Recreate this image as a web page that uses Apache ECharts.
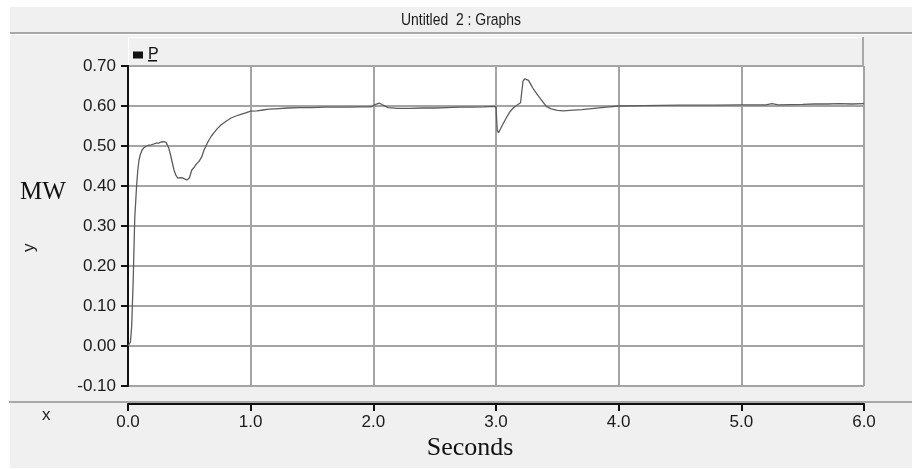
<!DOCTYPE html>
<html>
<head>
<meta charset="utf-8">
<title>Untitled 2 : Graphs</title>
<script src="https://cdn.jsdelivr.net/npm/echarts@6/dist/echarts.min.js"></script>
<style>
  html, body { margin: 0; padding: 0; background: #ffffff; }
  #chart { width: 912px; height: 469px; }
</style>
</head>
<body>
<div id="chart"></div>
<script>
// Active power P (MW) against simulation time (s)
const timeS = [
  0, 0.02, 0.028, 0.03, 0.04, 0.042, 0.052, 0.055, 0.065, 0.07,
  0.08, 0.09, 0.1, 0.115, 0.13, 0.15, 0.17, 0.19, 0.21, 0.23,
  0.25, 0.27, 0.29, 0.31, 0.33, 0.345, 0.36, 0.375, 0.39, 0.405,
  0.42, 0.44, 0.46, 0.48, 0.5, 0.52, 0.54, 0.56, 0.58, 0.6,
  0.62, 0.64, 0.66, 0.68, 0.7, 0.73, 0.76, 0.8, 0.84, 0.88,
  0.92, 0.96, 1.0, 1.05, 1.1, 1.15, 1.2, 1.3, 1.4, 1.5,
  1.6, 1.7, 1.8, 1.9, 1.98, 2.02, 2.05, 2.08, 2.12, 2.2,
  2.3, 2.4, 2.5, 2.6, 2.7, 2.8, 2.9, 2.98, 3.0, 3.01,
  3.02, 3.03, 3.04, 3.06, 3.08, 3.11, 3.14, 3.17, 3.2, 3.215,
  3.22, 3.235, 3.25, 3.265, 3.28, 3.3, 3.32, 3.34, 3.36, 3.38,
  3.41, 3.45, 3.5, 3.55, 3.6, 3.7, 3.8, 3.9, 4.0, 4.2,
  4.5, 4.8, 5.0, 5.2, 5.25, 5.3, 5.5, 5.6, 5.7, 5.8,
  5.9, 6.0
];
const powerMW = [
  0.0, 0.01, 0.01, 0.05, 0.05, 0.16, 0.16, 0.32, 0.32, 0.40,
  0.44, 0.465, 0.478, 0.49, 0.496, 0.5, 0.502, 0.503, 0.505, 0.507,
  0.507, 0.51, 0.511, 0.509, 0.497, 0.48, 0.46, 0.44, 0.427, 0.42,
  0.419, 0.421, 0.418, 0.415, 0.42, 0.44, 0.447, 0.456, 0.462, 0.472,
  0.49, 0.503, 0.515, 0.525, 0.533, 0.544, 0.553, 0.562, 0.57, 0.575,
  0.579, 0.583, 0.587, 0.588, 0.59, 0.592, 0.593, 0.595, 0.596, 0.596,
  0.597, 0.597, 0.597, 0.598, 0.598, 0.604, 0.607, 0.602, 0.596, 0.594,
  0.594, 0.595, 0.595, 0.596, 0.597, 0.597, 0.598, 0.599, 0.598, 0.54,
  0.533, 0.532, 0.545, 0.557, 0.568, 0.584, 0.595, 0.602, 0.608, 0.612,
  0.662, 0.668, 0.672, 0.664, 0.656, 0.645, 0.636, 0.627, 0.619, 0.611,
  0.599, 0.593, 0.589, 0.588, 0.589, 0.591, 0.594, 0.597, 0.6, 0.601,
  0.602, 0.602, 0.603, 0.603, 0.606, 0.603, 0.604, 0.605, 0.605, 0.606,
  0.605, 0.606
];
const yTicks = { min: -0.1, max: 0.7, step: 0.1 };
const xTicks = { min: 0, max: 6, step: 1 };

const panelGray = '#f0f0f0';
const rule = '#a8a8a8';
const sans = "'Liberation Sans', Arial, sans-serif";
const serif = "'Liberation Serif', 'Times New Roman', serif";

const chart = echarts.init(document.getElementById('chart'), null, { renderer: 'canvas' });

chart.setOption({
  animation: false,
  backgroundColor: panelGray,
  grid: {
    left: 128, right: 48, top: 66, bottom: 83,
    show: true, backgroundColor: '#ffffff', borderWidth: 0
  },
  legend: {
    left: 128, top: 42,
    icon: 'rect', itemWidth: 10, itemHeight: 7, itemGap: 8,
    textStyle: { fontFamily: sans, fontSize: 16, color: '#111' },
    data: ['P']
  },
  xAxis: {
    type: 'value',
    min: xTicks.min, max: xTicks.max, interval: xTicks.step,
    offset: 18,
    axisLine: { show: true, onZero: false, lineStyle: { color: '#111', width: 2 } },
    axisTick: { show: true, length: 7, lineStyle: { color: '#111', width: 2 } },
    axisLabel: {
      margin: 10, fontFamily: sans, fontSize: 17, color: '#1a1a1a',
      formatter: v => v.toFixed(1)
    },
    splitLine: { show: true, lineStyle: { color: '#a4a4a4', width: 2 } }
  },
  yAxis: {
    type: 'value',
    min: yTicks.min, max: yTicks.max, interval: yTicks.step,
    axisLine: { show: true, onZero: false, lineStyle: { color: '#111', width: 2 } },
    axisTick: { show: true, length: 7, lineStyle: { color: '#111', width: 2 } },
    axisLabel: {
      margin: 12, fontFamily: sans, fontSize: 17, color: '#1a1a1a',
      formatter: v => v.toFixed(2)
    },
    splitLine: { show: true, lineStyle: { color: '#a4a4a4', width: 2 } }
  },
  series: [{
    name: 'P',
    type: 'line',
    showSymbol: false,
    symbol: 'none',
    itemStyle: { color: '#111' },
    lineStyle: { color: '#5c5c5c', width: 1.3 },
    data: timeS.map((t, i) => [t, powerMW[i]])
  }],
  graphic: [
    // white margins around the window frame
    { type: 'rect', z: -5, shape: { x: 0, y: 0, width: 912, height: 7 }, style: { fill: '#ffffff' } },
    { type: 'rect', z: -5, shape: { x: 0, y: 0, width: 10, height: 469 }, style: { fill: '#ffffff' } },
    { type: 'rect', z: -5, shape: { x: 0, y: 468, width: 912, height: 1 }, style: { fill: '#ffffff' } },
    // window caption (condensed) and its rule
    {
      type: 'text', x: 461, y: 20, scaleX: 0.82, z: 5,
      style: {
        text: 'Untitled  2 : Graphs',
        fontFamily: sans, fontSize: 17, fill: '#1a1a1a',
        align: 'center', verticalAlign: 'middle'
      }
    },
    { type: 'rect', z: 1, shape: { x: 10, y: 32, width: 902, height: 2 }, style: { fill: rule } },
    { type: 'rect', z: 1, shape: { x: 10, y: 34, width: 902, height: 1 }, style: { fill: '#ffffff' } },
    // legend strip above the plot
    { type: 'rect', z: 1, shape: { x: 128, y: 37, width: 736, height: 28 }, style: { fill: panelGray } },
    { type: 'rect', z: 1, shape: { x: 128, y: 37, width: 734, height: 1 }, style: { fill: '#ffffff' } },
    { type: 'rect', z: 1, shape: { x: 128, y: 37, width: 1, height: 28 }, style: { fill: '#ffffff' } },
    { type: 'rect', z: 1, shape: { x: 862, y: 37, width: 2, height: 29 }, style: { fill: rule } },
    // underline on the legend entry
    { type: 'rect', z: 6, shape: { x: 148, y: 60, width: 9, height: 1.5 }, style: { fill: '#111' } },
    // rule separating the plot from the time axis
    { type: 'rect', z: 1, shape: { x: 9, y: 401, width: 903, height: 2 }, style: { fill: rule } },
    // axis captions
    {
      type: 'text', x: 20, y: 180, z: 5,
      style: { text: 'MW', fontFamily: serif, fontSize: 25, fill: '#111' }
    },
    {
      type: 'text', x: 21, y: 252, rotation: Math.PI / 2, z: 5,
      style: { text: 'y', fontFamily: sans, fontSize: 17, fill: '#222' }
    },
    {
      type: 'text', x: 42, y: 407, z: 5,
      style: { text: 'x', fontFamily: sans, fontSize: 17, fill: '#222' }
    },
    {
      type: 'text', x: 470, y: 448, z: 5,
      style: {
        text: 'Seconds', fontFamily: serif, fontSize: 26, fill: '#111',
        align: 'center', verticalAlign: 'middle'
      }
    }
  ]
});
</script>
</body>
</html>
